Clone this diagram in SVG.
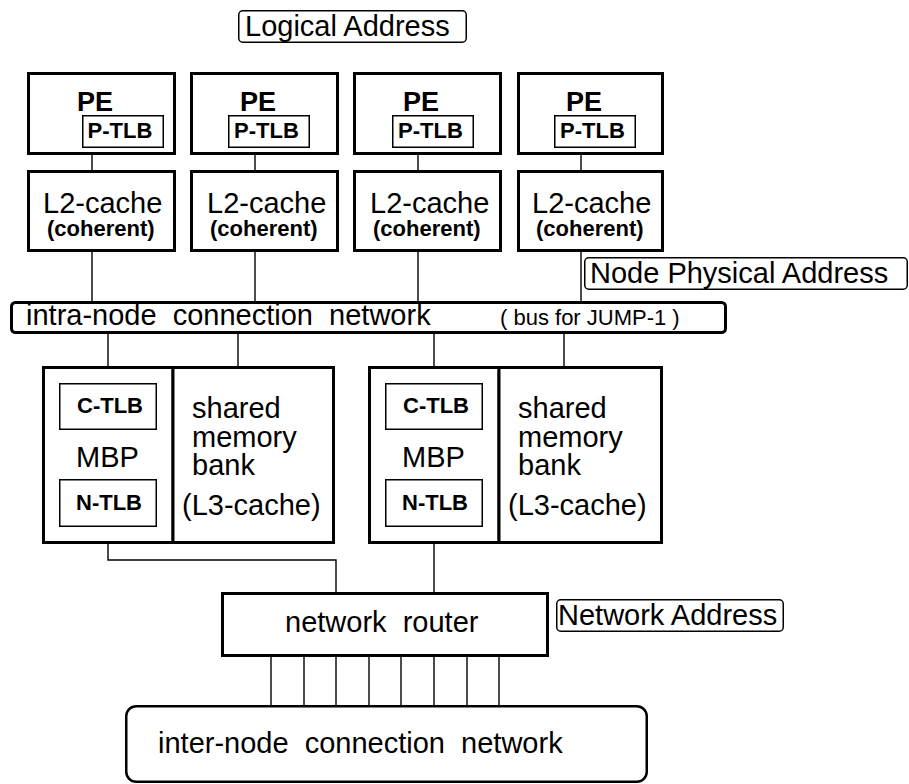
<svg xmlns="http://www.w3.org/2000/svg" width="909" height="784" viewBox="0 0 909 784">
  <style>
    text { font-family: "Liberation Sans", Arial, sans-serif; fill: #000; }
    .big { font-size: 29px; }
    .mid { font-size: 22px; }
    .bold { font-weight: bold; }
    .pe { font-size: 27px; font-weight: bold; }
    .thick { fill: #fff; stroke: #000; stroke-width: 3; }
    .thin { fill: #fff; stroke: #000; stroke-width: 1.5; }
    .label { fill: #fff; stroke: #000; stroke-width: 1.5; }
    .wire { fill: none; stroke: #000; stroke-width: 1.4; }
  </style>
  <rect width="909" height="784" fill="#fff"/>

  <!-- connectors -->
  <g id="connectors" class="wire">
    <line x1="92" y1="155" x2="92" y2="170"/>
    <line x1="255" y1="155" x2="255" y2="170"/>
    <line x1="418" y1="155" x2="418" y2="170"/>
    <line x1="581" y1="155" x2="581" y2="170"/>
    <line x1="92" y1="252" x2="92" y2="301"/>
    <line x1="255" y1="252" x2="255" y2="301"/>
    <line x1="418" y1="252" x2="418" y2="301"/>
    <line x1="581" y1="252" x2="581" y2="301"/>
    <line x1="108" y1="334" x2="108" y2="366"/>
    <line x1="238" y1="334" x2="238" y2="366"/>
    <line x1="434" y1="334" x2="434" y2="366"/>
    <line x1="564" y1="334" x2="564" y2="366"/>
    <polyline points="108,544 108,560 336,560 336,592"/>
    <line x1="434" y1="544" x2="434" y2="592"/>
    <line x1="271" y1="657" x2="271" y2="706"/>
    <line x1="304" y1="657" x2="304" y2="706"/>
    <line x1="336" y1="657" x2="336" y2="706"/>
    <line x1="369" y1="657" x2="369" y2="706"/>
    <line x1="401" y1="657" x2="401" y2="706"/>
    <line x1="434" y1="657" x2="434" y2="706"/>
    <line x1="467" y1="657" x2="467" y2="706"/>
    <line x1="499" y1="657" x2="499" y2="706"/>
  </g>

  <!-- address labels -->
  <g id="logical-address">
    <rect class="label" x="238.75" y="10.75" width="227.5" height="31.5" rx="4"/>
    <text class="big" x="245" y="36">Logical Address</text>
  </g>
  <g id="node-physical-address">
    <rect class="label" x="584.75" y="257.75" width="322.5" height="31.5" rx="4"/>
    <text class="big" x="590" y="283">Node Physical Address</text>
  </g>
  <g id="network-address">
    <rect class="label" x="556.75" y="599.75" width="226.5" height="31.5" rx="4"/>
    <text class="big" x="558" y="625">Network Address</text>
  </g>

  <!-- processing elements -->
  <g id="pe1">
    <rect class="thick" x="28.5" y="73.5" width="146" height="80"/>
    <text class="pe" x="77" y="111">PE</text>
    <rect class="thin" x="82.75" y="115.75" width="80.5" height="31.5"/>
    <text class="mid bold" x="87.5" y="138">P-TLB</text>
  </g>
  <g id="pe2">
    <rect class="thick" x="191.5" y="73.5" width="146" height="80"/>
    <text class="pe" x="240" y="111">PE</text>
    <rect class="thin" x="228.75" y="115.75" width="80.5" height="31.5"/>
    <text class="mid bold" x="234" y="138">P-TLB</text>
  </g>
  <g id="pe3">
    <rect class="thick" x="354.5" y="73.5" width="146" height="80"/>
    <text class="pe" x="403" y="111">PE</text>
    <rect class="thin" x="392.75" y="115.75" width="80.5" height="31.5"/>
    <text class="mid bold" x="398" y="138">P-TLB</text>
  </g>
  <g id="pe4">
    <rect class="thick" x="518.5" y="73.5" width="144" height="80"/>
    <text class="pe" x="566" y="111">PE</text>
    <rect class="thin" x="554.75" y="115.75" width="80.5" height="31.5"/>
    <text class="mid bold" x="560" y="138">P-TLB</text>
  </g>

  <!-- L2 caches -->
  <g id="l2-1">
    <rect class="thick" x="28.5" y="171.5" width="146" height="79"/>
    <text class="big" x="43" y="213">L2-cache</text>
    <text class="mid bold" x="47" y="236">(coherent)</text>
  </g>
  <g id="l2-2">
    <rect class="thick" x="191.5" y="171.5" width="146" height="79"/>
    <text class="big" x="207" y="213">L2-cache</text>
    <text class="mid bold" x="210" y="236">(coherent)</text>
  </g>
  <g id="l2-3">
    <rect class="thick" x="354.5" y="171.5" width="146" height="79"/>
    <text class="big" x="370" y="213">L2-cache</text>
    <text class="mid bold" x="373" y="236">(coherent)</text>
  </g>
  <g id="l2-4">
    <rect class="thick" x="518.5" y="171.5" width="144" height="79"/>
    <text class="big" x="532" y="213">L2-cache</text>
    <text class="mid bold" x="536" y="236">(coherent)</text>
  </g>

  <!-- intra-node bus -->
  <g id="intra-node-network">
    <rect class="thick" x="11.5" y="302.5" width="714" height="30" rx="4"/>
    <text class="big" x="26" y="325" xml:space="preserve">intra-node  connection  network</text>
    <text class="mid" x="500" y="325">( bus for JUMP-1 )</text>
  </g>

  <!-- memory-based processors and shared memory banks -->
  <g id="mbp1">
    <rect class="thick" x="43.5" y="367.5" width="129.5" height="175"/>
    <rect class="thin" x="59.75" y="383.75" width="96.5" height="45.5"/>
    <text class="mid bold" x="77" y="413">C-TLB</text>
    <text class="big" x="76" y="467">MBP</text>
    <rect class="thin" x="59.75" y="479.75" width="96.5" height="46.5"/>
    <text class="mid bold" x="76" y="510">N-TLB</text>
  </g>
  <g id="memory1">
    <rect class="thick" x="173" y="367.5" width="160.5" height="175"/>
    <text class="big" x="192" y="418">shared</text>
    <text class="big" x="192" y="447">memory</text>
    <text class="big" x="192" y="475">bank</text>
    <text class="big" x="182" y="515">(L3-cache)</text>
  </g>
  <g id="mbp2">
    <rect class="thick" x="369.5" y="367.5" width="129.5" height="175"/>
    <rect class="thin" x="385.75" y="383.75" width="96.5" height="45.5"/>
    <text class="mid bold" x="403" y="413">C-TLB</text>
    <text class="big" x="402" y="467">MBP</text>
    <rect class="thin" x="385.75" y="479.75" width="96.5" height="46.5"/>
    <text class="mid bold" x="402" y="510">N-TLB</text>
  </g>
  <g id="memory2">
    <rect class="thick" x="499" y="367.5" width="162.5" height="175"/>
    <text class="big" x="518" y="418">shared</text>
    <text class="big" x="518" y="447">memory</text>
    <text class="big" x="518" y="475">bank</text>
    <text class="big" x="508" y="515">(L3-cache)</text>
  </g>

  <!-- router and inter-node network -->
  <g id="network-router">
    <rect class="thick" x="222.5" y="593.5" width="325" height="62"/>
    <text class="big" x="285" y="632" xml:space="preserve">network  router</text>
  </g>
  <g id="inter-node-network">
    <rect fill="#fff" stroke="#000" stroke-width="2.5" x="126.25" y="706.25" width="520.5" height="75.5" rx="10"/>
    <text class="big" x="158" y="753" xml:space="preserve">inter-node  connection  network</text>
  </g>
</svg>
